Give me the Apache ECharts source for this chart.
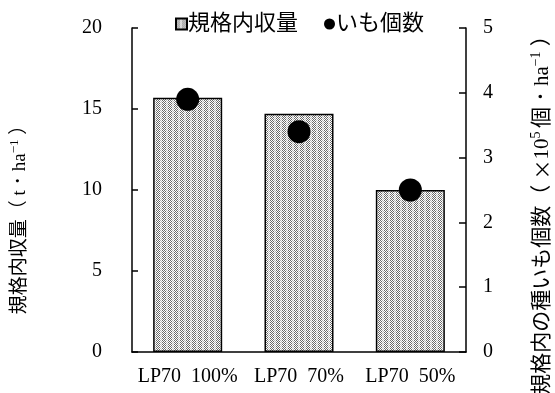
<!DOCTYPE html>
<html>
<head>
<meta charset="utf-8">
<script src="https://cdn.jsdelivr.net/npm/echarts@6/dist/echarts.min.js"></script>
<style>
  html, body { margin: 0; padding: 0; background: #fff; }
  #chart { width: 555px; height: 393px; }
</style>
</head>
<body>
<div id="chart"></div>
<script>
// Treatments (categories) and measured values
const categories = ['LP70  100%', 'LP70  70%', 'LP70  50%'];
const yieldValues = [15.7, 14.7, 10.0];      // 規格内収量 (t/ha)
const tuberCounts = [3.9, 3.4, 2.5];         // いも個数 (×10^5 /ha)
const seriesNames = ['規格内収量', 'いも個数'];
// Axis titles as rich text (superscripts in the "sup" style)
const leftAxisName = '{t|規格内収量（ t ･ ha}{sup|−1}{t| ）}';
const rightAxisName = '{t|規格内の種いも個数（ }{cj|×}{t|10}{sup|5 }{t|個 ･ ha}{sup|−1}{t| ）}';

const FONT = '"Liberation Serif", "Times New Roman", "Noto Sans CJK JP", serif';
const CJK = '"Noto Sans CJK JP", sans-serif';

// Fine dotted grey texture for the bars
function makePattern() {
  const c = document.createElement('canvas');
  c.width = 6; c.height = 4;
  const g = c.getContext('2d');
  g.fillStyle = '#ffffff';
  g.fillRect(0, 0, 6, 4);
  for (let y = 0; y < 4; y++) {
    for (let x = 0; x < 6; x++) {
      if ((x + y) % 2 === 0) {
        g.fillStyle = x < 4 ? '#6a6a6a' : '#b4b4b4';
        g.fillRect(x, y, 1, 1);
      }
    }
  }
  return c;
}
const barFill = { image: makePattern(), repeat: 'repeat' };

const nameRich = (size) => ({
  t: { fontFamily: FONT, fontSize: size, color: '#000', verticalAlign: 'bottom', lineHeight: size + 2 },
  cj: { fontFamily: CJK, fontSize: size - 1, color: '#000', verticalAlign: 'bottom', lineHeight: size + 2 },
  sup: { fontFamily: FONT, fontSize: Math.round(size * 0.66), color: '#000', verticalAlign: 'top', lineHeight: size + 2 }
});

const chart = echarts.init(document.getElementById('chart'), null, { renderer: 'canvas' });

chart.setOption({
  animation: false,
  backgroundColor: '#fff',
  textStyle: { fontFamily: FONT, color: '#000' },
  grid: { left: 132, right: 89, top: 28, bottom: 41, containLabel: false },
  legend: {
    top: 8,
    left: 170,
    itemGap: 26,
    itemWidth: 11,
    itemHeight: 11,
    textStyle: { fontFamily: FONT, fontSize: 22, color: '#000', padding: [0, 0, 0, -4] },
    data: [
      { name: seriesNames[0], icon: 'rect' },
      { name: seriesNames[1], icon: 'circle', itemWidth: 13, itemHeight: 13 }
    ]
  },
  xAxis: {
    type: 'category',
    data: categories,
    axisLine: { lineStyle: { color: '#000', width: 1.5 } },
    axisTick: { inside: true, length: 6, lineStyle: { color: '#000', width: 1.5 } },
    axisLabel: { color: '#000', fontFamily: FONT, fontSize: 20, margin: 15, interval: 0 },
    splitLine: { show: false }
  },
  yAxis: [
    {
      type: 'value', min: 0, max: 20, interval: 5,
      axisLine: { show: true, lineStyle: { color: '#000', width: 1.5 } },
      axisTick: { show: true, inside: true, length: 6, lineStyle: { color: '#000', width: 1.5 } },
      axisLabel: { color: '#000', fontFamily: FONT, fontSize: 20, margin: 30 },
      splitLine: { show: false }
    },
    {
      type: 'value', min: 0, max: 5, interval: 1, position: 'right',
      axisLine: { show: true, lineStyle: { color: '#000', width: 1.5 } },
      axisTick: { show: true, inside: true, length: 7, lineStyle: { color: '#000', width: 1.5 } },
      axisLabel: { color: '#000', fontFamily: FONT, fontSize: 20, margin: 17 },
      splitLine: { show: false }
    }
  ],
  graphic: [
    {
      type: 'text', x: 19, y: 215, rotation: Math.PI / 2,
      style: {
        text: leftAxisName, rich: nameRich(19), fill: '#000',
        align: 'center', verticalAlign: 'middle'
      }
    },
    {
      type: 'text', x: 541, y: 210, rotation: Math.PI / 2,
      style: {
        text: rightAxisName, rich: nameRich(21), fill: '#000',
        align: 'center', verticalAlign: 'middle'
      }
    }
  ],
  series: [
    {
      name: seriesNames[0],
      type: 'bar',
      yAxisIndex: 0,
      barWidth: '62%',
      data: yieldValues,
      itemStyle: { color: barFill, borderColor: '#000', borderWidth: 1.5 }
    },
    {
      name: seriesNames[1],
      type: 'scatter',
      yAxisIndex: 1,
      symbol: 'circle',
      symbolSize: 23,
      data: tuberCounts,
      itemStyle: { color: '#000', opacity: 1 },
      z: 5
    }
  ]
});
</script>
</body>
</html>
